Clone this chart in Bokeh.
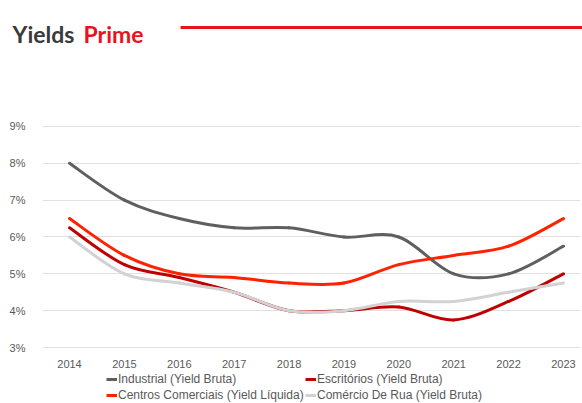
from bokeh.plotting import figure
from bokeh.layouts import column
from bokeh.models import (Range1d, Legend, LegendItem, FixedTicker,
                          CustomJSTickFormatter)
from bokeh.core.properties import value
from bokeh.embed import file_html
from bokeh.resources import INLINE

years = [2014, 2015, 2016, 2017, 2018, 2019, 2020, 2021, 2022, 2023]
industrial = [8.0, 7.0, 6.5, 6.25, 6.25, 6.0, 6.0, 5.0, 5.0, 5.75]
escritorios = [6.25, 5.25, 4.9, 4.5, 4.0, 4.0, 4.1, 3.75, 4.25, 5.0]
centros = [6.5, 5.5, 5.0, 4.9, 4.75, 4.75, 5.25, 5.5, 5.75, 6.5]
comercio = [6.0, 5.0, 4.75, 4.5, 4.0, 4.0, 4.25, 4.25, 4.5, 4.75]
y_ticks = [3, 4, 5, 6, 7, 8, 9]

names = ["Industrial (Yield Bruta)", "Escritórios (Yield Bruta)",
         "Centros Comerciais (Yield Líquida)", "Comércio De Rua (Yield Bruta)"]
colors = ["#5f5f5f", "#c00000", "#ff2200", "#d3d1d3"]
values = [industrial, escritorios, centros, comercio]

FONT = "Liberation Sans"
TXT = "#595959"
W = 582


def no_align(fig):
    try:
        fig.frame_align = False
    except Exception:
        pass


# ---- title strip (page y 0..100) ----
t = figure(width=W, height=100, output_backend="svg", toolbar_location=None,
           x_range=Range1d(0, W), y_range=Range1d(100, 0),
           min_border=0, x_axis_type=None, y_axis_type=None)
no_align(t)
t.outline_line_color = None
t.grid.visible = False
t.text(x=[12], y=[33], text=["Yields"], text_font=value("Lato"),
       text_font_style="bold", text_font_size="23px", text_color="#3a3a3a",
       text_baseline="alphabetic")
t.text(x=[83], y=[33], text=["Prime"], text_font=value("Lato"),
       text_font_style="bold", text_font_size="23px", text_color="#e8141c",
       text_baseline="alphabetic")
t.segment(x0=[180], y0=[27], x1=[W], y1=[27], line_color="#e8141c",
          line_width=3)

# ---- main chart (page y 100..370) ----
p = figure(width=W, height=270, output_backend="svg", toolbar_location=None,
           x_range=Range1d(2013.508, 2023.31), y_range=Range1d(2.946, 9.162),
           min_border_left=42, min_border_right=2, min_border_top=20,
           min_border_bottom=20)
no_align(p)
p.outline_line_color = None
p.xgrid.grid_line_color = None
p.ygrid.grid_line_color = "#e0e0e0"
p.ygrid.grid_line_width = 1

p.xaxis.ticker = FixedTicker(ticks=years)
p.yaxis.ticker = FixedTicker(ticks=y_ticks)
p.yaxis.formatter = CustomJSTickFormatter(code="return tick.toFixed(0) + '%';")
for ax in (p.xaxis, p.yaxis):
    ax.axis_line_color = None
    ax.major_tick_line_color = None
    ax.minor_tick_line_color = None
    ax.major_label_text_font = FONT
    ax.major_label_text_font_size = "11px"
    ax.major_label_text_color = TXT
p.xaxis.major_label_standoff = 4
p.yaxis.major_label_standoff = 11


def bez(xs, ys):
    n = len(xs)
    out = dict(x0=[], y0=[], x1=[], y1=[], cx0=[], cy0=[], cx1=[], cy1=[])
    for i in range(n - 1):
        xp, yp = (xs[i - 1], ys[i - 1]) if i > 0 else (xs[i], ys[i])
        xn, yn = (xs[i + 2], ys[i + 2]) if i + 2 < n else (xs[i + 1], ys[i + 1])
        out["x0"].append(xs[i]); out["y0"].append(ys[i])
        out["x1"].append(xs[i + 1]); out["y1"].append(ys[i + 1])
        out["cx0"].append(xs[i] + (xs[i + 1] - xp) / 6)
        out["cy0"].append(ys[i] + (ys[i + 1] - yp) / 6)
        out["cx1"].append(xs[i + 1] - (xn - xs[i]) / 6)
        out["cy1"].append(ys[i + 1] - (yn - ys[i]) / 6)
    return out


for vals, col in zip(values, colors):
    d = bez(years, vals)
    p.bezier(x0=d["x0"], y0=d["y0"], x1=d["x1"], y1=d["y1"],
             cx0=d["cx0"], cy0=d["cy0"], cx1=d["cx1"], cy1=d["cy1"],
             line_color=col, line_width=3, line_cap="round")

# ---- legend strip (page y 370..403) ----
lg = figure(width=W, height=33, output_backend="svg", toolbar_location=None,
            x_range=Range1d(0, W), y_range=Range1d(0, 33),
            min_border=0, x_axis_type=None, y_axis_type=None)
no_align(lg)
lg.outline_line_color = None
lg.grid.visible = False
items = []
for name, col in zip(names, colors):
    # legend swatch renderer, kept outside the visible range
    r = lg.line(x=[-50, -40], y=[-50, -50], line_color=col, line_width=3)
    items.append(LegendItem(label=name, renderers=[r]))


def mk_legend(its, loc, lw):
    return Legend(items=its, location=loc, orientation="horizontal",
                  label_text_font=FONT, label_text_font_size="12px",
                  label_text_color=TXT, glyph_width=11, glyph_height=14,
                  label_height=14, label_width=lw, label_standoff=1,
                  spacing=1, padding=0, margin=0, border_line_color=None,
                  background_fill_alpha=0)

lg.add_layout(mk_legend(items[0:2], (106, 17), 186))
lg.add_layout(mk_legend(items[2:4], (106, 1), 186))

layout = column(t, p, lg, spacing=0)
open("out.html", "w").write(file_html(layout, INLINE))
